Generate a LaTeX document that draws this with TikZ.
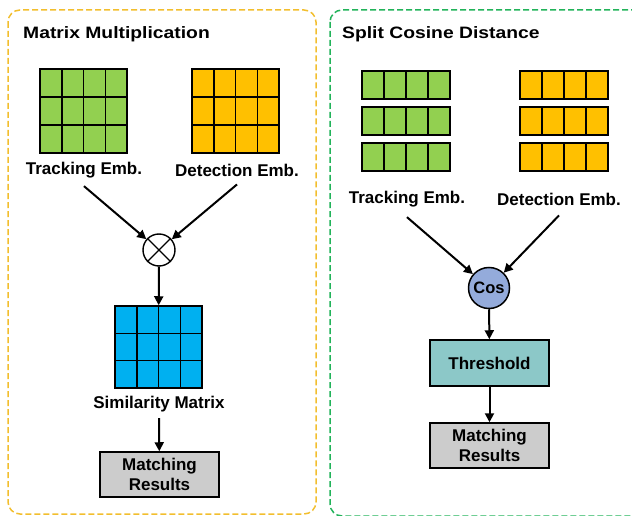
\documentclass[tikz,border=0pt]{standalone}
\usepackage{fontspec}
\setmainfont{Liberation Sans}
\newfontfamily\titlefont[FakeStretch=1.17]{Liberation Sans}
\usetikzlibrary{calc,positioning,arrows.meta,shapes}
\definecolor{embgreen}{HTML}{92D050}
\definecolor{emborange}{HTML}{FFC000}
\definecolor{simblue}{HTML}{00B0F0}
\definecolor{resgray}{HTML}{CCCCCC}
\definecolor{thrteal}{HTML}{8CC8C8}
\definecolor{cosblue}{HTML}{94ABDB}
\definecolor{mmframe}{HTML}{F2BE2E}
\definecolor{scframe}{HTML}{22B35A}
\tikzset{
    >={Triangle[length=9pt,width=9pt]},
    matgrid/.style={
        rectangle,
        draw=black, line width=1.5pt,
        inner sep=0pt,
        minimum width=87pt,
        minimum height=84pt,
        path picture={
            \foreach \k in {1,2,3}
                \draw[line width=1.5pt]
                    ($(path picture bounding box.north west)!\k/4!(path picture bounding box.north east)$) --
                    ($(path picture bounding box.south west)!\k/4!(path picture bounding box.south east)$);
            \foreach \k in {1,2}
                \draw[line width=1.5pt]
                    ($(path picture bounding box.north west)!\k/3!(path picture bounding box.south west)$) --
                    ($(path picture bounding box.north east)!\k/3!(path picture bounding box.south east)$);
        }
    },
    vecrow/.style={
        rectangle,
        draw=black, line width=1.5pt,
        inner sep=0pt,
        minimum width=88pt,
        minimum height=28pt,
        path picture={
            \foreach \k in {1,2,3}
                \draw[line width=1.5pt]
                    ($(path picture bounding box.north west)!\k/4!(path picture bounding box.north east)$) --
                    ($(path picture bounding box.south west)!\k/4!(path picture bounding box.south east)$);
        }
    },
    lbl/.style={
        font=\bfseries\fontsize{17}{20}\selectfont,
        inner sep=2pt
    },
    ttl/.style={
        anchor=west,
        font=\titlefont\bfseries\fontsize{16.5}{19}\selectfont,
        inner sep=0pt
    },
    procbox/.style={
        rectangle,
        draw=black, line width=1.5pt,
        minimum width=119pt,
        minimum height=45pt,
        inner sep=0pt,
        align=center,
        font=\bfseries\fontsize{17}{20.5}\selectfont
    },
    panel/.style={
        line width=1.5pt,
        dash pattern=on 6pt off 3pt,
        rounded corners=12pt
    },
    arr/.style={->, line width=2pt}
}

\begin{document}
\begin{tikzpicture}[x=1pt, y=-1pt]
    \clip (0,0) rectangle (632,516);
    \draw[panel, mmframe] (8,10) rectangle (316,514);
    \draw[panel, scframe] (330,10) rectangle (680,516);

    % matrix multiplication
    \node[ttl] (mmtitle) at (23,34) {Matrix Multiplication};
    \node[matgrid, fill=embgreen] (trkmat) at (83.5,111) {};
    \node[matgrid, fill=emborange] (detmat) at (235.5,111) {};
    \node[lbl] (trklbl) at (84,170) {Tracking Emb.};
    \node[lbl] (detlbl) at (237,170) {Detection Emb.};
    \node[circle, draw, line width=1.4pt, fill=white, minimum size=32pt, inner sep=0pt] (mul) at (159,250) {};
    \draw[line width=1.4pt] (mul.north west) -- (mul.south east);
    \draw[line width=1.4pt] (mul.north east) -- (mul.south west);
    \node[matgrid, fill=simblue, minimum height=82pt] (simmat) at (158.5,347) {};
    \node[lbl] (simlbl) at (159,404) {Similarity Matrix};
    \node[procbox, fill=resgray] (mmres) at (159.5,474.5) {Matching\\Results};

    \draw[arr] ([yshift=-6pt]trklbl.south) -- (mul);
    \draw[arr] ([yshift=-6pt]detlbl.south) -- (mul);
    \draw[arr] (mul) -- (simmat);
    \draw[arr] ([yshift=-4pt]simlbl.south) -- (mmres);

    % split cosine distance
    \node[ttl] (sctitle) at (342,34) {Split Cosine Distance};
    \foreach \r/\yy in {a/85,b/121,c/157} {
        \node[vecrow, fill=embgreen] (trkvec\r) at (406,\yy) {};
        \node[vecrow, fill=emborange] (detvec\r) at (564,\yy) {};
    }
    \node[lbl] (trklblr) at (407,199) {Tracking Emb.};
    \node[lbl] (detlblr) at (559,199) {Detection Emb.};
    \node[circle, draw, line width=1.5pt, fill=cosblue, minimum size=41pt, inner sep=0pt,
          font=\bfseries\fontsize{16.5}{19}\selectfont] (cos) at (489,288) {Cos};
    \node[procbox, fill=thrteal, minimum height=46pt] (thr) at (489.5,363) {Threshold};
    \node[procbox, fill=resgray] (scres) at (489.5,445.5) {Matching\\Results};

    \draw[arr] ([yshift=-8pt]trklblr.south) -- (cos);
    \draw[arr] ([yshift=-8pt]detlblr.south) -- (cos);
    \draw[arr] (cos) -- (thr);
    \draw[arr] (thr) -- (scres);
\end{tikzpicture}
\end{document}
